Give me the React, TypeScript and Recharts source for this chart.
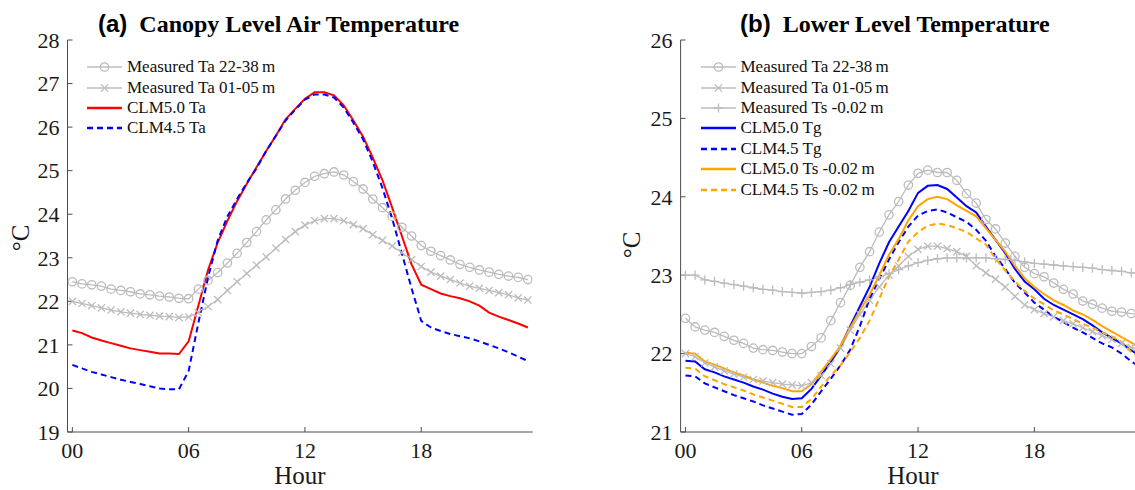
import React from "react";
import { LineChart, Line, XAxis, YAxis, Legend } from "recharts";

const GRAY = "#bcbcbc";
const AXIS = "#4d4d4d";
const SERIF = "'Liberation Serif', 'Times New Roman', serif";
const SANS = "'Liberation Sans', Arial, sans-serif";

// half-hourly local time
const HOURS = [
  0, 0.5, 1, 1.5, 2, 2.5, 3, 3.5, 4, 4.5, 5, 5.5, 6, 6.5, 7, 7.5, 8, 8.5, 9, 9.5,
  10, 10.5, 11, 11.5, 12, 12.5, 13, 13.5, 14, 14.5, 15, 15.5, 16, 16.5, 17, 17.5,
  18, 18.5, 19, 19.5, 20, 20.5, 21, 21.5, 22, 22.5, 23, 23.5,
];
const HOUR_TICKS = [0, 6, 12, 18];
const HOUR_LABELS = ["00", "06", "12", "18"];
const A_Y_TICKS = [19, 20, 21, 22, 23, 24, 25, 26, 27, 28];
const B_Y_TICKS = [21, 22, 23, 24, 25, 26];

// (a) canopy level
const A_TA_HIGH = [
  22.45, 22.4, 22.38, 22.35, 22.28, 22.25, 22.22, 22.17, 22.15, 22.12, 22.1, 22.07,
  22.06, 22.28, 22.48, 22.66, 22.88, 23.1, 23.35, 23.6, 23.87, 24.1, 24.35, 24.55,
  24.73, 24.87, 24.93, 24.97, 24.9, 24.75, 24.58, 24.35, 24.15, 23.95, 23.7, 23.5,
  23.28, 23.15, 23.05, 22.95, 22.85, 22.78, 22.72, 22.67, 22.62, 22.58, 22.55, 22.5,
];
const A_TA_LOW = [
  22.0, 21.95, 21.9, 21.85, 21.8, 21.76, 21.73, 21.7, 21.68, 21.66, 21.65, 21.63,
  21.64, 21.74, 21.88, 22.04, 22.25, 22.45, 22.64, 22.83, 23.02, 23.22, 23.42, 23.6,
  23.75, 23.85, 23.9, 23.9, 23.85, 23.76, 23.67, 23.53, 23.4, 23.27, 23.12, 22.96,
  22.8, 22.67, 22.58, 22.5, 22.42, 22.35, 22.3, 22.25, 22.2, 22.15, 22.08, 22.03,
];
const A_CLM50 = [
  21.33, 21.27, 21.17, 21.1, 21.04, 20.98, 20.92, 20.88, 20.84, 20.8, 20.8, 20.79,
  21.08, 21.9, 22.72, 23.35, 23.85, 24.3, 24.7, 25.08, 25.45, 25.8, 26.18, 26.42,
  26.65, 26.8, 26.8, 26.73, 26.5, 26.15, 25.78, 25.3, 24.78, 24.15, 23.5, 22.85,
  22.38, 22.28, 22.18, 22.12, 22.07, 22.0, 21.9, 21.74, 21.65, 21.57, 21.49, 21.4,
];
const A_CLM45 = [
  20.54, 20.46, 20.38, 20.32, 20.26, 20.2, 20.15, 20.1, 20.05, 20.0, 19.98, 19.98,
  20.4, 21.5, 22.55, 23.4, 23.95, 24.35, 24.72, 25.05, 25.45, 25.8, 26.15, 26.4,
  26.63, 26.75, 26.75, 26.68, 26.45, 26.1, 25.72, 25.2, 24.6, 23.9, 23.1, 22.3,
  21.55, 21.4, 21.32, 21.25, 21.2, 21.15, 21.08, 21.0, 20.92, 20.83, 20.73, 20.63,
];

// (b) lower level
const B_TA_HIGH = [
  22.45, 22.34, 22.3, 22.27, 22.22, 22.17, 22.13, 22.07, 22.05, 22.04, 22.02, 22.0,
  22.0, 22.09, 22.2, 22.42, 22.65, 22.87, 23.1, 23.3, 23.55, 23.77, 23.94, 24.15,
  24.3, 24.34, 24.31, 24.31, 24.21, 24.04, 23.92, 23.71, 23.59, 23.41, 23.24, 23.1,
  23.02, 22.98, 22.9, 22.82, 22.76, 22.67, 22.63, 22.58, 22.54, 22.53, 22.51, 22.5,
];
const B_TA_LOW = [
  22.0, 21.96, 21.88, 21.83, 21.78, 21.74, 21.7, 21.67, 21.65, 21.63, 21.61, 21.6,
  21.59, 21.63, 21.72, 21.87, 22.07, 22.3, 22.5, 22.68, 22.85, 23.0, 23.12, 23.24,
  23.33, 23.37, 23.37, 23.34, 23.3, 23.24, 23.12, 23.03, 22.95, 22.85, 22.73, 22.62,
  22.56, 22.51, 22.47, 22.42, 22.38, 22.33, 22.28, 22.23, 22.18, 22.13, 22.08, 22.05,
];
const B_TS_MEAS = [
  23.0, 23.0, 22.94, 22.92, 22.9, 22.88, 22.86, 22.84, 22.82, 22.81, 22.79, 22.78,
  22.77, 22.78, 22.79, 22.81, 22.84, 22.88, 22.91, 22.94, 22.98, 23.02, 23.07, 23.12,
  23.16, 23.19, 23.21, 23.22, 23.22, 23.22, 23.22, 23.22, 23.21, 23.2, 23.19, 23.17,
  23.15, 23.14, 23.13, 23.12, 23.11, 23.1, 23.09, 23.07, 23.06, 23.05, 23.03, 23.02,
];
const B_TG_CLM50 = [
  21.91, 21.9, 21.8, 21.76, 21.71, 21.67, 21.63, 21.58, 21.54, 21.49, 21.45, 21.42,
  21.43, 21.55, 21.72, 21.9, 22.09, 22.35, 22.6, 22.85, 23.15, 23.42, 23.62, 23.82,
  24.05, 24.14, 24.15, 24.1, 23.99, 23.88, 23.8, 23.62, 23.45, 23.28, 23.08, 22.92,
  22.82, 22.7, 22.62, 22.56, 22.5, 22.44, 22.36, 22.27, 22.2, 22.13, 22.04, 21.97,
];
const B_TG_CLM45 = [
  21.72, 21.71, 21.62, 21.57, 21.52, 21.47, 21.43, 21.39, 21.34, 21.3, 21.26, 21.22,
  21.23, 21.35, 21.52, 21.68, 21.85, 22.05, 22.35, 22.7, 22.95, 23.2, 23.42, 23.62,
  23.76, 23.82, 23.84, 23.8, 23.74, 23.68, 23.58, 23.44, 23.24, 23.08, 22.9, 22.78,
  22.65, 22.56, 22.47, 22.4, 22.33, 22.27, 22.2, 22.13, 22.08, 22.0, 21.9, 21.82,
];
const B_TS_CLM50 = [
  22.01, 22.0, 21.9, 21.86, 21.81, 21.76, 21.72, 21.67, 21.63, 21.59, 21.56, 21.52,
  21.52, 21.61, 21.77, 21.93, 22.1, 22.33, 22.55, 22.75, 23.0, 23.26, 23.46, 23.7,
  23.88, 23.97, 24.0, 23.97, 23.89, 23.82, 23.75, 23.6, 23.45, 23.3, 23.12, 22.96,
  22.85, 22.76, 22.68, 22.62, 22.55, 22.5, 22.43, 22.35, 22.28, 22.21, 22.14, 22.07,
];
const B_TS_CLM45 = [
  21.82, 21.81, 21.71, 21.66, 21.61, 21.57, 21.53, 21.48, 21.44, 21.4, 21.36, 21.32,
  21.32, 21.42, 21.58, 21.72, 21.85, 22.02, 22.2, 22.42, 22.7, 22.98, 23.2, 23.43,
  23.55, 23.63, 23.66, 23.64, 23.6, 23.55, 23.47, 23.39, 23.21, 23.06, 22.92, 22.8,
  22.7, 22.63, 22.55, 22.5, 22.44, 22.38, 22.33, 22.27, 22.22, 22.15, 22.02, 21.94,
];

const dataA = HOURS.map((h, i) => ({
  h,
  taHigh: A_TA_HIGH[i],
  taLow: A_TA_LOW[i],
  clm50: A_CLM50[i],
  clm45: A_CLM45[i],
}));

const dataB = HOURS.map((h, i) => ({
  h,
  taHigh: B_TA_HIGH[i],
  taLow: B_TA_LOW[i],
  tsMeas: B_TS_MEAS[i],
  tg50: B_TG_CLM50[i],
  tg45: B_TG_CLM45[i],
  ts50: B_TS_CLM50[i],
  ts45: B_TS_CLM45[i],
}));

type Marker = "circle" | "cross" | "plus" | null;

type SeriesDef = {
  key: string;
  name: string;
  color: string;
  width: number;
  dash?: string;
  marker: Marker;
};

const SERIES_A: SeriesDef[] = [
  { key: "taHigh", name: "Measured Ta 22-38\u2009m", color: GRAY, width: 1.3, marker: "circle" },
  { key: "taLow", name: "Measured Ta 01-05\u2009m", color: GRAY, width: 1.3, marker: "cross" },
  { key: "clm50", name: "CLM5.0 Ta", color: "#ff0000", width: 2, marker: null },
  { key: "clm45", name: "CLM4.5 Ta", color: "#0000ff", width: 2, dash: "6 4", marker: null },
];

const SERIES_B: SeriesDef[] = [
  { key: "taHigh", name: "Measured Ta 22-38\u2009m", color: GRAY, width: 1.3, marker: "circle" },
  { key: "taLow", name: "Measured Ta 01-05\u2009m", color: GRAY, width: 1.3, marker: "cross" },
  { key: "tsMeas", name: "Measured Ts -0.02\u2009m", color: GRAY, width: 1.3, marker: "plus" },
  { key: "tg50", name: "CLM5.0 Tg", color: "#0000ff", width: 2, marker: null },
  { key: "tg45", name: "CLM4.5 Tg", color: "#0000ff", width: 2, dash: "6 4", marker: null },
  { key: "ts50", name: "CLM5.0 Ts -0.02\u2009m", color: "#ffa500", width: 2, marker: null },
  { key: "ts45", name: "CLM4.5 Ts -0.02\u2009m", color: "#ffa500", width: 2, dash: "6 4", marker: null },
];

function markerShape(marker: Marker, cx: number, cy: number, key: string) {
  if (marker === "circle") {
    return <circle key={key} cx={cx} cy={cy} r={4.2} fill="none" stroke={GRAY} strokeWidth={1.3} />;
  }
  if (marker === "cross") {
    const s = 3.6;
    return (
      <path
        key={key}
        d={`M${cx - s},${cy - s}L${cx + s},${cy + s}M${cx - s},${cy + s}L${cx + s},${cy - s}`}
        stroke={GRAY}
        strokeWidth={1.3}
        fill="none"
      />
    );
  }
  if (marker === "plus") {
    const s = 4.6;
    return (
      <path
        key={key}
        d={`M${cx - s},${cy}L${cx + s},${cy}M${cx},${cy - s}L${cx},${cy + s}`}
        stroke={GRAY}
        strokeWidth={1.3}
        fill="none"
      />
    );
  }
  return <g key={key} />;
}

function makeDot(marker: Marker) {
  return (props: any) => {
    const { cx, cy, index } = props;
    const key = `${marker}-${index}`;
    if (cx == null || cy == null) return <g key={key} />;
    return markerShape(marker, cx, cy, key);
  };
}

function LegendBox({ series }: { series: SeriesDef[] }) {
  return (
    <div style={{ fontFamily: SERIF, fontSize: 17, color: "#111" }}>
      {series.map((s) => (
        <div
          key={s.key}
          style={{ display: "flex", alignItems: "center", height: 20.4, whiteSpace: "nowrap" }}
        >
          <svg width={35} height={20} style={{ display: "block" }}>
            <line
              x1={0}
              y1={10}
              x2={35}
              y2={10}
              stroke={s.color}
              strokeWidth={s.width + 0.3}
              strokeDasharray={s.dash}
            />
            {s.marker && markerShape(s.marker, 17.5, 10, "m")}
          </svg>
          <span style={{ marginLeft: 5, lineHeight: "20px" }}>{s.name}</span>
        </div>
      ))}
    </div>
  );
}

const fmtHour = (v: number) => HOUR_LABELS[HOUR_TICKS.indexOf(v)] ?? String(v);

const tickStyle = { fontFamily: SERIF, fontSize: 22, fill: "#1a1a1a" };

type PanelProps = {
  data: Array<Record<string, number>>;
  series: SeriesDef[];
  yDomain: [number, number];
  yTicks: number[];
  width: number;
  yAxisWidth: number;
  rightMargin: number;
  legendLeft: number;
};

function Panel({ data, series, yDomain, yTicks, width, yAxisWidth, rightMargin, legendLeft }: PanelProps) {
  return (
    <LineChart
      width={width}
      height={490}
      data={data}
      margin={{ top: 40, right: rightMargin, bottom: 0, left: 0 }}
    >
      <XAxis
        dataKey="h"
        type="number"
        domain={[-0.25, 23.75]}
        ticks={HOUR_TICKS}
        interval={0}
        tickFormatter={fmtHour}
        allowDataOverflow
        height={58}
        tickSize={-5}
        tickMargin={15}
        stroke={AXIS}
        tick={tickStyle}
      />
      <XAxis
        xAxisId="top"
        orientation="top"
        dataKey="h"
        type="number"
        domain={[-0.25, 23.75]}
        ticks={HOUR_TICKS}
        interval={0}
        allowDataOverflow
        height={0}
        tickSize={-5}
        tick={false}
        stroke={AXIS}
      />
      <YAxis
        type="number"
        domain={yDomain}
        ticks={yTicks}
        interval={0}
        allowDataOverflow
        width={yAxisWidth}
        tickSize={-5}
        tickMargin={13}
        stroke={AXIS}
        tick={tickStyle}
      />
      <YAxis
        yAxisId="right"
        orientation="right"
        type="number"
        domain={yDomain}
        ticks={yTicks}
        interval={0}
        allowDataOverflow
        width={0}
        tickSize={-5}
        tick={false}
        stroke={AXIS}
      />
      <Legend
        layout="vertical"
        align="center"
        verticalAlign="middle"
        wrapperStyle={{ left: legendLeft, top: 57, width: 320, height: series.length * 20.4 }}
        content={() => <LegendBox series={series} />}
      />
      {series.map((s) => (
        <Line
          key={s.key}
          type="linear"
          dataKey={s.key}
          name={s.name}
          stroke={s.color}
          strokeWidth={s.width}
          strokeDasharray={s.dash}
          dot={s.marker ? makeDot(s.marker) : false}
          activeDot={false}
          isAnimationActive={false}
        />
      ))}
    </LineChart>
  );
}

function Title({ left, tag, text }: { left: number; tag: string; text: string }) {
  return (
    <div
      style={{
        position: "absolute",
        left,
        top: 24,
        transform: "translateY(-50%)",
        fontSize: 24,
        fontWeight: 700,
        lineHeight: 1,
        whiteSpace: "pre",
        color: "#000",
      }}
    >
      <span style={{ fontFamily: SANS }}>{tag}</span>
      <span style={{ fontFamily: SERIF }}>{"  " + text}</span>
    </div>
  );
}

function AxisText({ x, y, text, rotate }: { x: number; y: number; text: string; rotate?: boolean }) {
  return (
    <div
      style={{
        position: "absolute",
        left: x,
        top: y,
        transform: `translate(-50%, -50%)${rotate ? " rotate(-90deg)" : ""}`,
        fontFamily: SERIF,
        fontSize: 25,
        lineHeight: 1,
        whiteSpace: "nowrap",
        color: "#1a1a1a",
      }}
    >
      {text}
    </div>
  );
}

export default function App() {
  return (
    <div
      style={{
        position: "absolute",
        left: 0,
        top: 0,
        width: 1135,
        height: 490,
        overflow: "hidden",
        background: "#fff",
      }}
    >
      <div style={{ position: "absolute", left: 0, top: 0 }}>
        <Panel
          data={dataA}
          series={SERIES_A}
          yDomain={[19, 28]}
          yTicks={A_Y_TICKS}
          width={560}
          yAxisWidth={67.5}
          rightMargin={27.3}
          legendLeft={87}
        />
      </div>
      <div style={{ position: "absolute", left: 600, top: 0 }}>
        <Panel
          data={dataB}
          series={SERIES_B}
          yDomain={[21, 26]}
          yTicks={B_Y_TICKS}
          width={600}
          yAxisWidth={80.6}
          rightMargin={54.2}
          legendLeft={100.5}
        />
      </div>
      <Title left={98} tag="(a)" text="Canopy Level Air Temperature" />
      <Title left={740} tag="(b)" text="Lower Level Temperature" />
      <AxisText x={20} y={238} text="°C" rotate />
      <AxisText x={631} y={245} text="°C" rotate />
      <AxisText x={300} y={475} text="Hour" />
      <AxisText x={913} y={475} text="Hour" />
    </div>
  );
}
